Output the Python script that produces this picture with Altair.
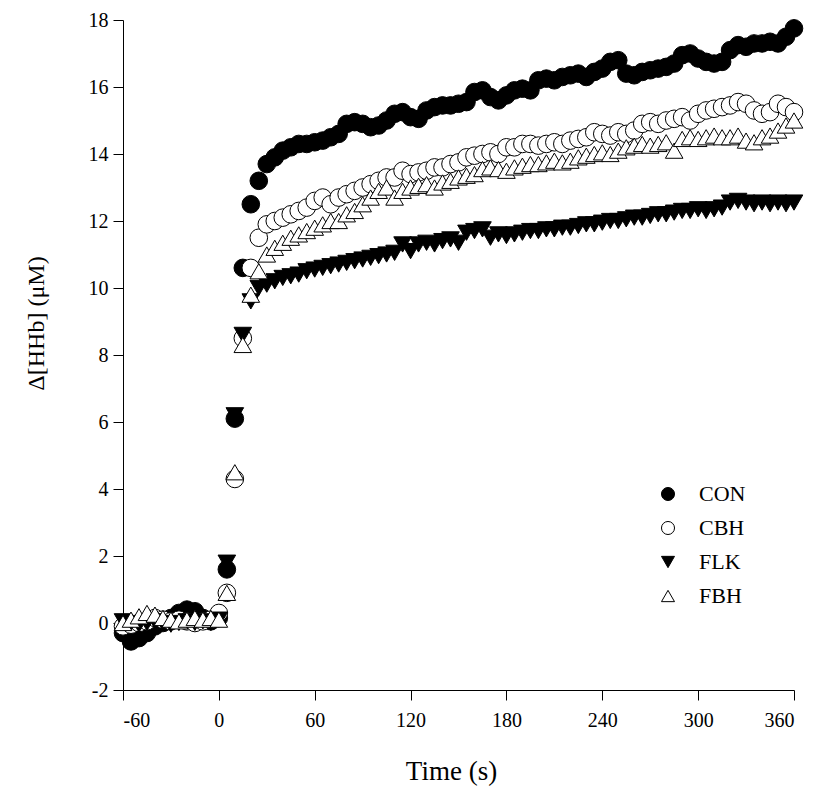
import altair as alt
import pandas as pd

times = list(range(-60, 361, 5))

con = [-0.3, -0.55, -0.45, -0.3, -0.1, 0.0, 0.15, 0.3, 0.4, 0.35, 0.15, 0.05, 0.15,
       1.6, 6.1, 10.6, 12.5, 13.2, 13.7, 13.9, 14.1, 14.2, 14.3, 14.3, 14.35,
       14.4, 14.5, 14.6, 14.9, 14.95, 14.9, 14.8, 14.85, 15.0, 15.2, 15.25, 15.1,
       15.05, 15.3, 15.4, 15.45, 15.45, 15.5, 15.55, 15.85, 15.9, 15.7, 15.6, 15.75,
       15.9, 15.95, 15.9, 16.2, 16.25, 16.2, 16.3, 16.35, 16.4, 16.3, 16.45, 16.55,
       16.75, 16.8, 16.4, 16.35, 16.45, 16.5, 16.55, 16.6, 16.7, 16.95, 17.0, 16.85,
       16.75, 16.7, 16.75, 17.1, 17.25, 17.2, 17.3, 17.3, 17.35, 17.3, 17.5, 17.75]

cbh = [-0.1, -0.05, 0.0, 0.05, 0.15, 0.1, 0.05, 0.1, 0.05, 0.0, 0.05, 0.1, 0.3,
       0.9, 4.3, 8.5, 10.6, 11.5, 11.9, 12.0, 12.1, 12.2, 12.3, 12.4, 12.6,
       12.7, 12.5, 12.7, 12.8, 12.9, 13.0, 13.1, 13.2, 13.3, 13.3, 13.5, 13.4,
       13.45, 13.5, 13.6, 13.6, 13.7, 13.75, 13.9, 13.95, 14.0, 14.05, 14.0, 14.2,
       14.2, 14.3, 14.3, 14.25, 14.3, 14.35, 14.3, 14.4, 14.45, 14.5, 14.65, 14.6,
       14.55, 14.65, 14.6, 14.7, 14.9, 14.95, 14.9, 15.0, 15.05, 15.1, 15.0, 15.2,
       15.3, 15.35, 15.4, 15.45, 15.55, 15.5, 15.3, 15.2, 15.25, 15.5, 15.4, 15.25]

flk = [0.05, 0.0, -0.05, 0.0, 0.05, 0.0, -0.05, 0.0, 0.05, 0.0, 0.05, 0.0, 0.1,
       1.8, 6.2, 8.6, 9.6, 10.0, 10.1, 10.2, 10.3, 10.35, 10.4, 10.5, 10.55,
       10.6, 10.65, 10.7, 10.75, 10.8, 10.85, 10.9, 10.95, 11.0, 11.05, 11.3, 11.1,
       11.3, 11.35, 11.3, 11.4, 11.45, 11.35, 11.65, 11.7, 11.75, 11.5, 11.6, 11.55,
       11.6, 11.65, 11.7, 11.7, 11.75, 11.75, 11.8, 11.8, 11.85, 11.9, 11.9, 11.95,
       12.0, 12.0, 12.05, 12.1, 12.1, 12.15, 12.2, 12.2, 12.25, 12.3, 12.3, 12.35,
       12.3, 12.35, 12.4, 12.55, 12.6, 12.55, 12.5, 12.55, 12.5, 12.55, 12.5, 12.55]

fbh = [0.0, 0.1, 0.2, 0.3, 0.25, 0.15, 0.1, 0.05, 0.1, 0.15, 0.1, 0.15, 0.1,
       0.9, 4.5, 8.3, 9.8, 10.5, 11.0, 11.2, 11.35, 11.5, 11.6, 11.7, 11.8,
       11.9, 12.0, 12.0, 12.2, 12.3, 12.5, 12.7, 12.9, 13.0, 12.7, 12.9, 13.0,
       13.05, 13.1, 13.0, 13.15, 13.2, 13.3, 13.35, 13.4, 13.55, 13.6, 13.55, 13.5,
       13.6, 13.65, 13.7, 13.7, 13.75, 13.8, 13.75, 13.8, 13.9, 13.95, 14.0, 14.05,
       14.0, 14.1, 14.2, 14.25, 14.3, 14.25, 14.3, 14.35, 14.1, 14.45, 14.5, 14.45,
       14.5, 14.55, 14.5, 14.5, 14.55, 14.4, 14.35, 14.5, 14.55, 14.7, 14.85, 15.0]

groups = ["CON", "CBH", "FLK", "FBH"]
fills = ["black", "white", "black", "white"]
strokes = ["black", "black", "black", "black"]
shapes = ["circle", "circle", "triangle-down", "triangle-up"]

x_ticks = [-60, 0, 60, 120, 180, 240, 300, 360]
y_ticks = [-2, 0, 2, 4, 6, 8, 10, 12, 14, 16, 18]

rows = []
for g, vals in zip(groups, [con, cbh, flk, fbh]):
    for t, v in zip(times, vals):
        rows.append({"Time": t, "Value": v, "Group": g})
df = pd.DataFrame(rows)

FONT = "Liberation Serif"
LEG = dict(title=None, orient="none", legendX=534, legendY=463)

chart = alt.Chart(df).mark_point(
    filled=True, strokeWidth=1, size=310, opacity=1
).encode(
    x=alt.X("Time:Q",
            scale=alt.Scale(domain=[-60, 360], nice=False, zero=False),
            axis=alt.Axis(values=x_ticks, title="Time (s)", titleX=328,
                          labelExpr="'' + datum.value")),
    y=alt.Y("Value:Q",
            scale=alt.Scale(domain=[-2, 18], nice=False, zero=False),
            axis=alt.Axis(values=y_ticks, title="\u0394[HHb] (\u03bcM)",
                          titleY=303,
                          labelExpr="'' + datum.value")),
    fill=alt.Fill("Group:N",
                  scale=alt.Scale(domain=groups, range=fills),
                  legend=alt.Legend(**LEG)),
    stroke=alt.Stroke("Group:N",
                      scale=alt.Scale(domain=groups, range=strokes),
                      legend=alt.Legend(**LEG)),
    shape=alt.Shape("Group:N",
                    scale=alt.Scale(domain=groups, range=shapes),
                    legend=alt.Legend(**LEG)),
).properties(
    width=671, height=670,
    autosize=alt.AutoSizeParams(type="none"),
    padding={"left": 115, "top": 12, "right": 10, "bottom": 100},
).configure_view(
    stroke=None
).configure_axis(
    grid=False,
    domainColor="black", domainWidth=1,
    tickColor="black", tickWidth=1, tickSize=10,
    labelFont=FONT, labelFontSize=20, labelColor="black",
    titleFont=FONT, titleFontWeight="normal", titleColor="black",
    labelPadding=5,
).configure_axisX(
    titleFontSize=27, titlePadding=28, labelPadding=10,
).configure_axisY(
    titleFontSize=24, titlePadding=40,
).configure_legend(
    labelFont=FONT, labelFontSize=22, labelColor="black",
    symbolSize=170, symbolStrokeWidth=1,
    rowPadding=12, labelOffset=20, padding=0,
)

chart.save("out.html", embed_options={"renderer": "svg", "actions": False})
